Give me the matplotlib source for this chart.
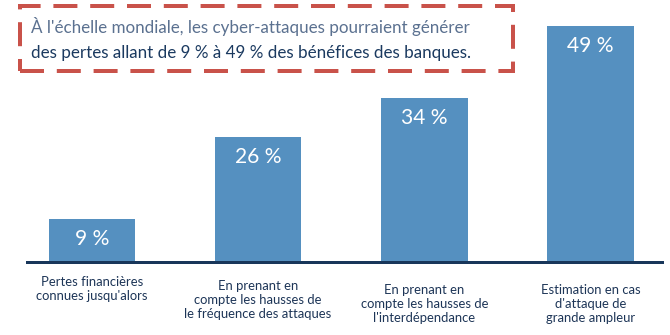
import matplotlib
matplotlib.use("Agg")
import matplotlib.pyplot as plt
from matplotlib.patches import Rectangle

categories = [
    "Pertes financières\nconnues jusqu'alors",
    "En prenant en\ncompte les hausses de\nle fréquence des attaques",
    "En prenant en\ncompte les hausses de\nl'interdépendance",
    "Estimation en cas\nd'attaque de\ngrande ampleur",
]
values = [9, 26, 34, 49]
value_labels = ["9 %", "26 %", "34 %", "49 %"]
title_line1 = "À l'échelle mondiale, les cyber-attaques pourraient générer"
title_line2 = "des pertes allant de 9 % à 49 % des bénéfices des banques."

plt.rcParams['font.family'] = ['Lato', 'DejaVu Sans']

W, H = 670, 335
fig = plt.figure(figsize=(6.7, 3.35), dpi=100)
PX = 72 / 100  # points per pixel

ax = fig.add_axes([27 / W, 73 / H, (662 - 27) / W, 262 / H])
ax.set_xlim(-0.39, 3.43)
ax.set_ylim(0, 54.4)
bars = ax.bar(range(len(values)), values, width=0.52, color="#5590c0", zorder=2)
for s in ["top", "right", "left"]:
    ax.spines[s].set_visible(False)
ax.spines["bottom"].set_color("#18365a")
ax.spines["bottom"].set_linewidth(3 * PX)
ax.set_xticks([])
ax.set_yticks([])
ax.patch.set_alpha(0)

for i, (v, lab) in enumerate(zip(values, value_labels)):
    ax.annotate(lab, xy=(i, v), xytext=(0, -20 * PX), textcoords="offset points",
                ha="center", va="center", color="white", fontsize=21 * PX,
                fontweight="normal")

label_tops = [276, 280, 284, 284]
for i, (cat, top) in enumerate(zip(categories, label_tops)):
    ax.annotate(cat, xy=(i, 0), xytext=(0, -(top - 262) * PX), textcoords="offset points",
                ha="center", va="top", color="#1d3557", fontsize=13 * PX,
                linespacing=1.22)

# dashed title box
box = Rectangle((20 / W, 1 - 71 / H), (513 - 20) / W, (71 - 6) / H,
                transform=fig.transFigure, fill=False, edgecolor="#c9524a",
                linewidth=4 * PX, linestyle=(0, (6, 3.2)))
fig.add_artist(box)
fig.text(31 / W, 1 - 27 / H, title_line1, ha="left", va="center",
         color="#5b7190", fontsize=17 * PX)
fig.text(31 / W, 1 - 53 / H, title_line2, ha="left", va="center",
         color="#1b3a60", fontsize=17 * PX)

fig.savefig("out.png", dpi=100)
